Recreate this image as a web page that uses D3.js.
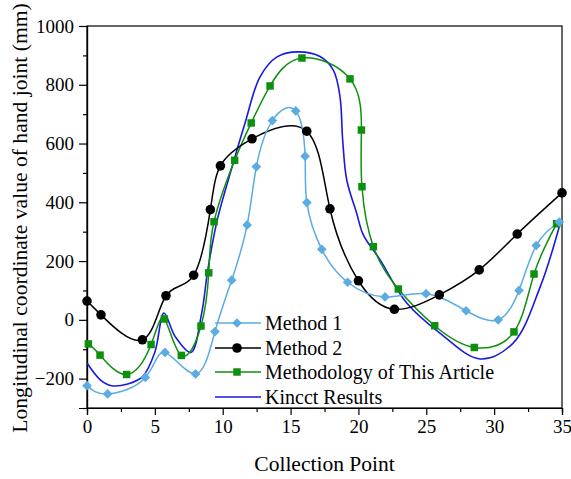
<!DOCTYPE html>
<html><head><meta charset="utf-8">
<script src="https://cdn.jsdelivr.net/npm/d3@7"></script>
<style>body{margin:0;background:#fff}svg{display:block}</style>
</head><body>
<svg id="c" width="571" height="479"></svg>
<script>
const xTicks = [0,5,10,15,20,25,30,35];
const yTicks = [-200,0,200,400,600,800,1000];
const seriesNames = ["Method 1","Method 2","Methodology of This Article","Kincct Results"];

const m1X = [0,1.52,4.3,5.75,8.0,9.43,10.66,11.8,12.48,13.66,15.38,16.07,16.2,17.3,19.2,21.96,24.98,27.93,30.3,31.83,33.1,34.8];
const m1Y = [-224,-252,-196,-111,-184,-40,135,323,521,678,711,557,399,240,128,78,89,31,0,100,253,333];

const m2X = [0,1.03,4.08,5.82,7.86,9.09,9.83,12.16,16.19,17.9,20.0,22.65,25.96,28.9,31.7,35];
const m2Y = [64,17,-68,82,152,375,524,616,642,378,133,36,85,170,292,432];

const m3X = [0.1,0.96,2.92,4.72,5.7,6.95,8.4,8.97,9.36,10.88,12.1,13.49,15.84,19.38,20.22,20.26,21.1,22.94,25.62,28.54,31.46,32.94,34.6];
const m3Y = [-82,-120,-186,-84,3,-121,-21,160,334,543,670,796,891,820,646,453,249,105,-20,-94,-41,156,327];

const kX = [0,1,1.8,3,4.1,5,5.67,6.5,7.66,8.45,8.9,9.6,10.5,11.64,12.75,14,15.57,17.17,18.15,18.64,18.84,19.14,19.87,20.36,21.6,23.56,26,28.96,31.4,33.4,34.9];
const kY = [-147,-205,-224,-218,-193,-110,23,-57,-111,23,170,340,490,669,827,895,912,896,850,760,612,476,363,289,204,57,-45,-133,-79,113,334];

const colors = ["#5aace2","#000000","#0d900d","#1a1ade"];

const svg = d3.select("#c");
const L = 87, R = 562, T = 26, B = 408;
const x = d3.scaleLinear().domain([0,35]).range([L,R]);
const y = d3.scaleLinear().domain([-300,1000]).range([B,T]);
const font = "'Liberation Serif','Times New Roman',serif";

svg.append("rect").attr("x",L).attr("y",T).attr("width",R-L).attr("height",B-T)
  .attr("fill","none").attr("stroke","#000").attr("stroke-width",1.2);

const xAx = svg.append("g").attr("transform",`translate(0,${B})`)
  .call(d3.axisBottom(x).tickValues(xTicks).tickSize(7).tickPadding(5).tickFormat(d3.format("d")));
const xMin = svg.append("g").attr("transform",`translate(0,${B})`)
  .call(d3.axisBottom(x).tickValues(d3.range(2.5,35,5)).tickSize(4).tickFormat(""));
const yAx = svg.append("g").attr("transform",`translate(${L},0)`)
  .call(d3.axisLeft(y).tickValues(yTicks).tickSize(8).tickPadding(5).tickFormat(d3.format("d")));
const yMin = svg.append("g").attr("transform",`translate(${L},0)`)
  .call(d3.axisLeft(y).tickValues(d3.range(-300,1000,200)).tickSize(4).tickFormat(""));
[xAx,xMin,yAx,yMin].forEach(g=>{
  g.select(".domain").attr("stroke","#000").attr("stroke-width",1.2);
  g.selectAll(".tick line").attr("stroke","#000").attr("stroke-width",1.2);
  g.selectAll("text").attr("font-family",font).attr("font-size",19).attr("fill","#000");
});

svg.append("text").attr("x",(L+R)/2).attr("y",471).attr("text-anchor","middle")
  .attr("font-family",font).attr("font-size",21.5).text("Collection Point");
svg.append("text").attr("transform",`translate(27,${218}) rotate(-90)`).attr("text-anchor","middle")
  .attr("font-family",font).attr("font-size",21.6).text("Longitudinal coordinate value of hand joint (mm)");

const line = d3.line().x(d=>x(d[0])).y(d=>y(d[1])).curve(d3.curveNatural);
const zip = (a,b)=>a.map((v,i)=>[v,b[i]]);
const d1 = zip(m1X,m1Y), d2 = zip(m2X,m2Y), d3s = zip(m3X,m3Y), d4 = zip(kX,kY);

const g = svg.append("g");
g.append("path").attr("fill","none").attr("stroke",colors[3]).attr("stroke-width",1.6)
  .attr("d", d3.line().x(d=>x(d[0])).y(d=>y(d[1])).curve(d3.curveCatmullRom.alpha(0.5))(d4));
g.append("path").attr("d",line(d3s)).attr("fill","none").attr("stroke",colors[2]).attr("stroke-width",1.5);
g.append("path").attr("d",line(d2)).attr("fill","none").attr("stroke",colors[1]).attr("stroke-width",1.5);
g.append("path").attr("d",line(d1)).attr("fill","none").attr("stroke",colors[0]).attr("stroke-width",1.5);

const diamond = d3.symbol().type(d3.symbolDiamond2).size(60);
const square = d3.symbol().type(d3.symbolSquare).size(56);
const circle = d3.symbol().type(d3.symbolCircle).size(72);

g.selectAll(".m3").data(d3s).join("path").attr("d",square)
  .attr("transform",d=>`translate(${x(d[0])},${y(d[1])})`).attr("fill",colors[2]);
g.selectAll(".m2").data(d2).join("path").attr("d",circle)
  .attr("transform",d=>`translate(${x(d[0])},${y(d[1])})`).attr("fill",colors[1]);
g.selectAll(".m1").data(d1).join("path").attr("d",diamond)
  .attr("transform",d=>`translate(${x(d[0])},${y(d[1])})`).attr("fill",colors[0]);

const lg = svg.append("g");
const rowY = [323,348,372,397];
const syms = [diamond,circle,square,null];
seriesNames.forEach((n,i)=>{
  lg.append("line").attr("x1",215).attr("x2",261).attr("y1",rowY[i]).attr("y2",rowY[i])
    .attr("stroke",colors[i]).attr("stroke-width",1.6);
  if(syms[i]) lg.append("path").attr("d",syms[i]).attr("transform",`translate(237,${rowY[i]})`).attr("fill",colors[i]);
  lg.append("text").attr("x",265).attr("y",rowY[i]+7).attr("font-family",font).attr("font-size",20).text(n);
});
</script>
</body></html>
